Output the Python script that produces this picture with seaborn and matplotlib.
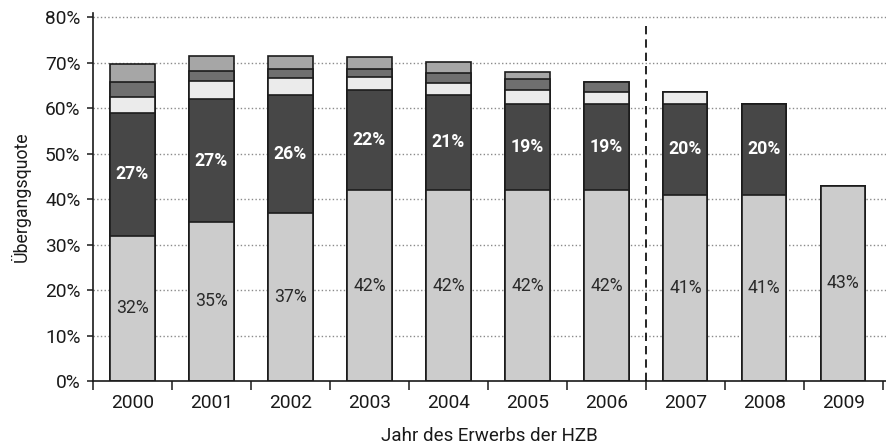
import matplotlib
matplotlib.use("Agg")
import matplotlib.pyplot as plt
import numpy as np
import pandas as pd
import seaborn as sns
from matplotlib.ticker import FixedLocator, FuncFormatter

# Jahr des Erwerbs der Hochschulzugangsberechtigung
jahre = ["2000", "2001", "2002", "2003", "2004", "2005", "2006", "2007", "2008", "2009"]

# Übergangsquote in Prozent, getrennt nach Zeitpunkt des Studienbeginns
gleiches_jahr = [32, 35, 37, 42, 42, 42, 42, 41, 41, 43]
nach_1_jahr = [27, 27, 26, 22, 21, 19, 19, 20, 20, 0]
nach_2_jahren = [3.6, 4.0, 3.7, 2.9, 2.6, 3.1, 2.6, 2.6, 0, 0]
nach_3_jahren = [3.2, 2.2, 1.9, 1.8, 2.2, 2.4, 2.3, 0, 0, 0]
nach_4_jahren = [3.9, 3.3, 3.0, 2.7, 2.3, 1.5, 0, 0, 0, 0]

schichten = [gleiches_jahr, nach_1_jahr, nach_2_jahren, nach_3_jahren, nach_4_jahren]
farben = ["#cccccc", "#474747", "#ebebeb", "#6f6f6f", "#a6a6a6"]

sns.set_theme(style="white")
plt.rcParams["font.family"] = ["Roboto", "DejaVu Sans"]

fig = plt.figure(figsize=(8.86, 4.47), dpi=100)
ax = fig.add_axes([93 / 886, 1 - 381 / 447, 1 - 93 / 886, (381 - 12.9) / 447])

# horizontale Hilfslinien hinter den Balken
for y in range(10, 81, 10):
    ax.axhline(y, color="#8a8a8a", linestyle=":", linewidth=1.0, zorder=0)

# gestapelte Balken: kumulierte Summen, von oben nach unten gezeichnet
kumuliert = np.cumsum(np.array(schichten, dtype=float), axis=0)
for stufe in range(len(schichten) - 1, -1, -1):
    df = pd.DataFrame({"Jahr": jahre, "Quote": kumuliert[stufe]})
    sns.barplot(data=df, x="Jahr", y="Quote", color=farben[stufe], saturation=1,
                edgecolor="#1c1c1c", linewidth=1.2, width=0.56, errorbar=None,
                ax=ax, zorder=2)

# Wertbeschriftungen
for i, v in enumerate(gleiches_jahr):
    ax.text(i, v / 2, f"{v}%", ha="center", va="center", color="#2a2a2a",
            fontsize=12.7, zorder=5)
for i, v in enumerate(nach_1_jahr):
    if v > 0:
        ax.text(i, gleiches_jahr[i] + v / 2, f"{v}%", ha="center", va="center",
                color="white", fontsize=12.7, fontweight="bold", zorder=5)

# Trennlinie zwischen 2006 und 2007
ax.axvline(6.5, ymin=0, ymax=79 / 81, color="black", linestyle=(0, (5, 3)),
           linewidth=1.2, zorder=4)

ax.set_xlim(-0.5, 9.54)
ax.set_ylim(0, 81)

ax.yaxis.set_major_locator(FixedLocator(range(0, 81, 10)))
ax.yaxis.set_major_formatter(FuncFormatter(lambda v, p: f"{int(v)}%"))
ax.xaxis.set_minor_locator(FixedLocator(np.arange(-0.5, 10, 1.0)))
ax.tick_params(axis="x", which="major", length=0, pad=9, labelsize=13.8, colors="#1a1a1a")
ax.tick_params(axis="x", which="minor", length=6.5, width=1.1, color="#1a1a1a", direction="out")
ax.tick_params(axis="y", which="major", length=4, width=1.1, color="#1a1a1a",
               direction="out", pad=5, labelsize=13.8, labelcolor="#1a1a1a")
ax.tick_params(bottom=True, left=True, which="both")

for s in ["top", "right"]:
    ax.spines[s].set_visible(False)
for s in ["left", "bottom"]:
    ax.spines[s].set_color("#1a1a1a")
    ax.spines[s].set_linewidth(1.2)

ax.set_xlabel("Jahr des Erwerbs der HZB", fontsize=13.5, color="#1a1a1a", labelpad=11)
ax.set_ylabel("Übergangsquote", fontsize=12.8, color="#1a1a1a", labelpad=10)

fig.savefig("out.png", dpi=100)
